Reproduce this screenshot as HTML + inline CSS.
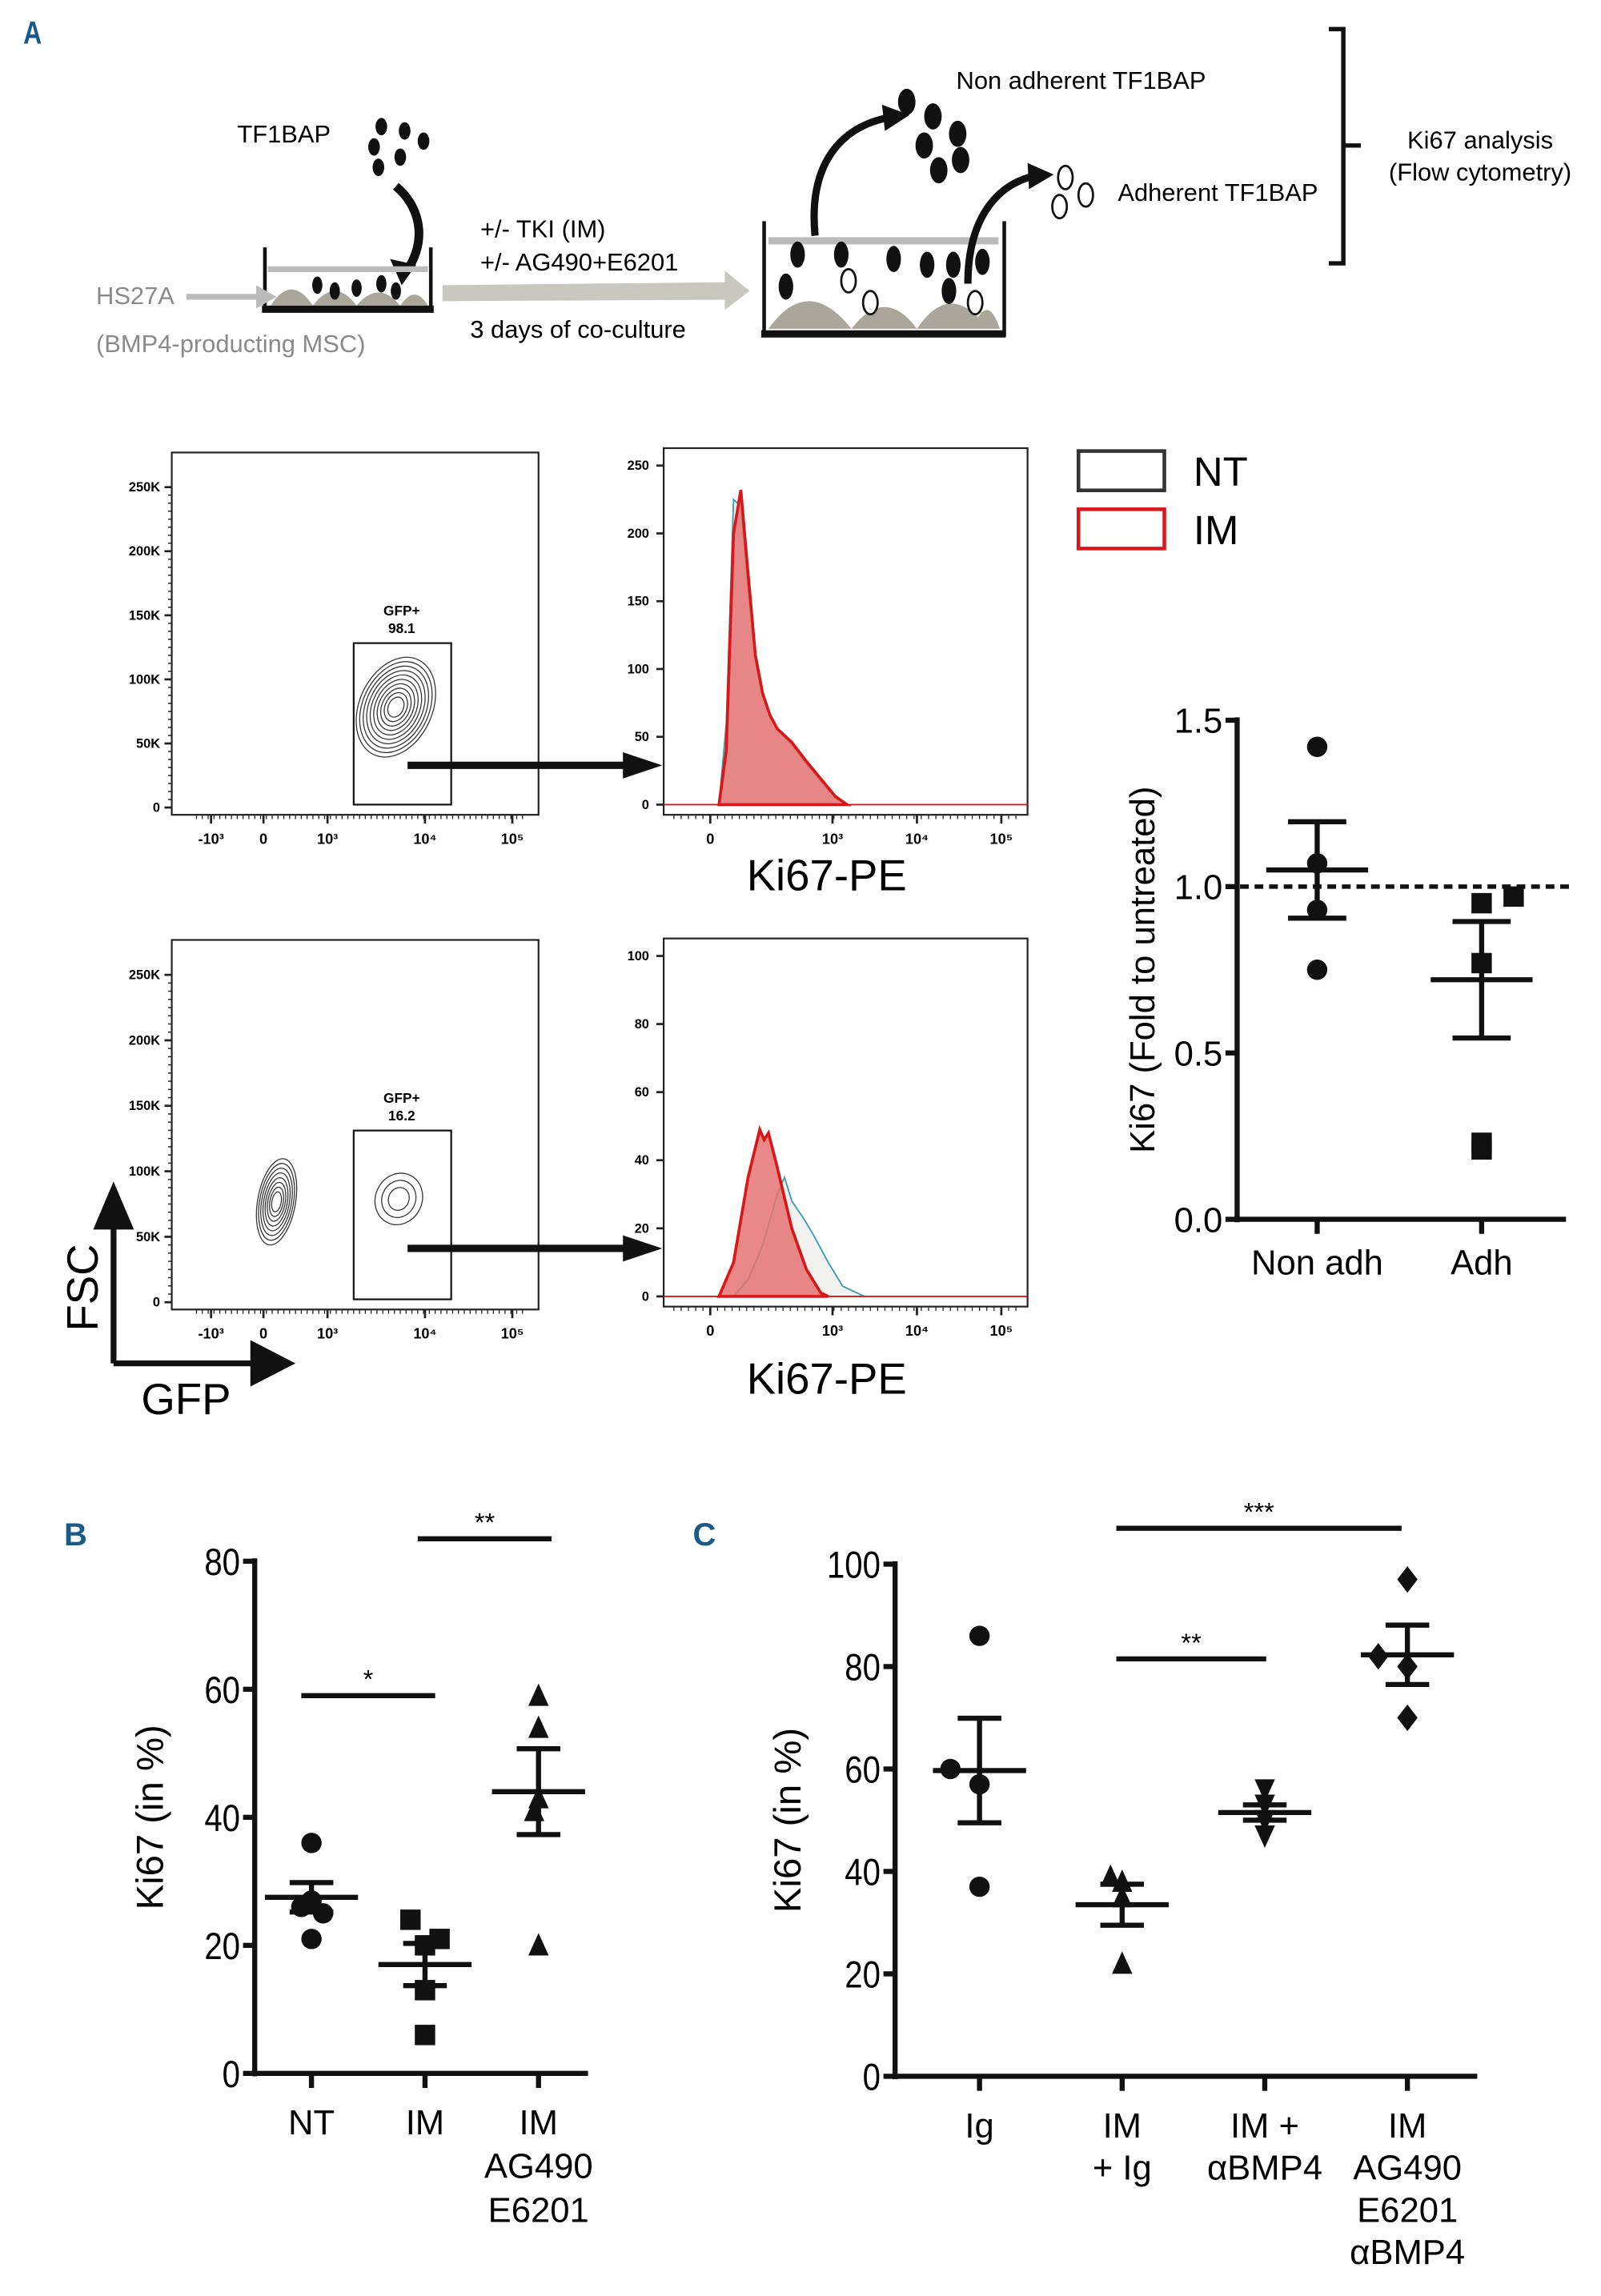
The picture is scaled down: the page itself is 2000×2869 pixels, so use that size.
<!DOCTYPE html>
<html><head><meta charset="utf-8"><style>
html,body{margin:0;padding:0;background:#fff}
svg{display:block}
text{font-family:"Liberation Sans",sans-serif}
</style></head><body>
<svg id="fig" xmlns="http://www.w3.org/2000/svg" width="2000" height="2869" viewBox="0 0 1100 1578">
<rect width="1100" height="1578" fill="#fff"/>
<g>
<text x="16" y="30" font-size="22" font-weight="bold" fill="#1a5a8a" transform="scale(0.8,1) translate(4,0)">A</text>
<text x="163" y="98" font-size="17">TF1BAP</text>
<g fill="#111">
<ellipse cx="262" cy="87" rx="4" ry="6"/><ellipse cx="278" cy="90" rx="4" ry="6"/><ellipse cx="257" cy="101" rx="4" ry="6"/><ellipse cx="291" cy="97" rx="4" ry="6"/><ellipse cx="275" cy="108" rx="4" ry="6"/><ellipse cx="260" cy="115" rx="4" ry="6"/></g>
<path d="M272 128 C292 145 292 170 278 188" stroke="#111" stroke-width="6" fill="none"/>
<polygon points="268,178 286,182 276,196" fill="#111"/>
<g>
<path d="M182 170 V213 H296 V170" stroke="#111" stroke-width="2.5" fill="none"/>
<rect x="180" y="210" width="118" height="5" fill="#111"/>
<rect x="184" y="183" width="110" height="4" fill="#bbb"/>
<path d="M186 210 Q200 188 215 210 Q230 190 245 210 Q260 192 275 210 Q285 195 294 210 Z" fill="#aaa69c"/>
<g fill="#111"><ellipse cx="218" cy="196" rx="3.5" ry="6"/><ellipse cx="230" cy="200" rx="3.5" ry="6"/><ellipse cx="245" cy="198" rx="3.5" ry="6"/><ellipse cx="262" cy="195" rx="3.5" ry="6"/><ellipse cx="272" cy="200" rx="3.5" ry="6"/></g>
</g>
<text x="66" y="209" font-size="17" fill="#8a8a8a">HS27A</text>
<line x1="128" y1="204" x2="180" y2="204" stroke="#bbb" stroke-width="4"/>
<polygon points="176,196 190,204 176,212" fill="#bbb"/>
<text x="66" y="242" font-size="17" fill="#8a8a8a">(BMP4-producting MSC)</text>
<text x="330" y="163" font-size="17">+/-  TKI (IM)</text>
<text x="330" y="186" font-size="17">+/- AG490+E6201</text>
<polygon points="304,196 498,194 498,186 515,200 498,213 498,206 304,207" fill="#c8c8c0"/>
<text x="323" y="232" font-size="17">3 days of co-culture</text>
<g>
<path d="M525 152 V230 H690 V152" stroke="#111" stroke-width="2.5" fill="none"/>
<rect x="523" y="227" width="168" height="5" fill="#111"/>
<rect x="528" y="163" width="158" height="5" fill="#bbb"/>
<path d="M528 226 Q555 188 585 226 Q608 196 630 226 Q650 196 672 218 Q680 205 687 226 Z" fill="#aaa69c"/>
<g fill="#111"><ellipse cx="548" cy="175" rx="5" ry="9"/><ellipse cx="578" cy="175" rx="5" ry="9"/><ellipse cx="614" cy="178" rx="5" ry="9"/><ellipse cx="637" cy="182" rx="5" ry="9"/><ellipse cx="655" cy="182" rx="5" ry="9"/><ellipse cx="675" cy="180" rx="5" ry="9"/><ellipse cx="540" cy="197" rx="5" ry="9"/><ellipse cx="652" cy="200" rx="5" ry="9"/></g>
<g fill="#fff" stroke="#111" stroke-width="1.5"><ellipse cx="583" cy="193" rx="5" ry="8"/><ellipse cx="598" cy="208" rx="5" ry="8"/><ellipse cx="670" cy="208" rx="5" ry="8"/></g>
</g>
<g fill="#111"><ellipse cx="623" cy="70" rx="6" ry="9"/><ellipse cx="641" cy="80" rx="6" ry="9"/><ellipse cx="635" cy="100" rx="6" ry="9"/><ellipse cx="658" cy="92" rx="6" ry="9"/><ellipse cx="645" cy="117" rx="6" ry="9"/><ellipse cx="660" cy="110" rx="6" ry="9"/></g>
<path d="M560 162 C555 110 580 85 615 80" stroke="#111" stroke-width="5" fill="none"/>
<polygon points="606,72 625,79 608,90" fill="#111"/>
<path d="M665 195 C665 150 685 125 715 120" stroke="#111" stroke-width="5" fill="none"/>
<polygon points="706,112 724,120 707,130" fill="#111"/>
<g fill="#fff" stroke="#111" stroke-width="1.5"><ellipse cx="732" cy="122" rx="5" ry="8"/><ellipse cx="746" cy="134" rx="5" ry="8"/><ellipse cx="728" cy="142" rx="5" ry="8"/></g>
<text x="657" y="61" font-size="17">Non adherent TF1BAP</text>
<text x="768" y="138" font-size="17">Adherent TF1BAP</text>
<path d="M913 20 H923 V181 H913 M923 100 H935" stroke="#111" stroke-width="3" fill="none"/>
<text x="1017" y="102" font-size="17" text-anchor="middle">Ki67 analysis</text>
<text x="1017" y="124" font-size="17" text-anchor="middle">(Flow cytometry)</text>
</g>

<g id="flow"></g>
<g id="foldchart"></g>
<g id="chartB"></g>
<g id="chartC"></g>
</svg>
<script>
const histTopChannels = [32,37,42,47,52,57,62,67,72,82,92,102,112,120];
const histTopNT = [0,60,225,220,160,108,80,65,55,44,30,17,5,0];
const histTopIM = [0,40,200,232,170,110,82,66,56,46,32,19,6,0];
const histBotChannelsIM = [32,42,52,60,63,66,72,82,92,102,107];
const histBotIM = [0,10,35,49,46,48,38,20,8,1,0];
const histBotChannelsNT = [42,52,62,72,77,82,90,97,107,117,132];
const histBotNT = [0,5,15,30,35,28,23,18,10,3,0];
const histTopTicks = [0,50,100,150,200,250];
const histBotTicks = [0,20,40,60,80,100];
const fscTicks = ['0','50K','100K','150K','200K','250K'];
const logTickLabels = ['0','10³','10⁴','10⁵'];

const foldCats = ['Non adh','Adh'];
const foldNonAdh = [1.42,1.07,0.93,0.75];
const foldAdh = [0.97,0.95,0.77,0.23,0.21];
const foldMeans = [1.05,0.72];
const foldSem = [0.145,0.175];
const foldTicks = ['0.0','0.5','1.0','1.5'];

const bCats = [['NT'],['IM'],['IM','AG490','E6201']];
const bNT = [36,27,26,25,21];
const bIM = [24,21,20,13,6];
const bIMAG = [59,54,43,41,20];
const bMeans = [27.5,17,44];
const bSem = [2.3,3.3,6.7];
const bTicks = [0,20,40,60,80];

const cCats = [['Ig'],['IM','+ Ig'],['IM +','αBMP4'],['IM','AG490','E6201','αBMP4']];
const cIg = [86,60,57,37];
const cIMIg = [39,38,35,22];
const cBMP4 = [56,53,50,47];
const cIMAG = [97,82,80,70];
const cMeans = [59.7,33.5,51.5,82.3];
const cSem = [10.2,4,1.5,5.8];
const cTicks = [0,20,40,60,80,100];

const NS='http://www.w3.org/2000/svg';
function mk(parent, tag, attrs, txt){const e=document.createElementNS(NS,tag);for(const k in attrs)e.setAttribute(k,attrs[k]);if(txt!==undefined)e.textContent=txt;parent.appendChild(e);return e;}

const flow=document.getElementById('flow');
function dotPlot(x0,y0,x1,y1,gateLabel,twoPops){
  const g=mk(flow,'g',{});
  
  
  mk(g,'rect',{x:x0,y:y0,width:x1-x0,height:y1-y0,fill:'none',stroke:'#222','stroke-width':1.2});
  for(let i=0;i<fscTicks.length;i++){
    const y=y1-5-i*(y1-y0-20)/5.2;
    mk(g,'line',{x1:x0-5,y1:y,x2:x0,y2:y,stroke:'#222','stroke-width':1.5});
    const t=mk(g,'text',{x:x0-8,y:y+3,'font-size':9,'text-anchor':'end','font-weight':'bold'},fscTicks[i]);
    
  }
  for(let i=0;i<40;i++){const y=y1-5-i*(y1-y0-20)/41.6;mk(g,'line',{x1:x0-2.5,y1:y,x2:x0,y2:y,stroke:'#222','stroke-width':0.8});}
  const gx=['-10³','0','10³','10⁴','10⁵'], gp=[145,181,225,292,352];
  for(let i=0;i<gx.length;i++){mk(g,'line',{x1:gp[i],y1:y1,x2:gp[i],y2:y1+6,stroke:'#222','stroke-width':1.5});const t=mk(g,'text',{x:gp[i],y:y1+20,'font-size':10,'text-anchor':'middle','font-weight':'bold'},gx[i]);}
  for(let x=135;x<360;x+=4){mk(g,'line',{x1:x,y1:y1,x2:x,y2:y1+3,stroke:'#222','stroke-width':0.7});}
  mk(g,'rect',{x:243,y:y0+131,width:67,height:y1-y0-138,fill:'none',stroke:'#111','stroke-width':1.2});
  const t1=mk(g,'text',{x:276,y:y0+112,'font-size':9.5,'text-anchor':'middle','font-weight':'bold'},'GFP+');
  const t2=mk(g,'text',{x:276,y:y0+124,'font-size':9.5,'text-anchor':'middle','font-weight':'bold'},gateLabel);
  const cg=mk(g,'g',{fill:'none',stroke:'#333','stroke-width':0.7});
  if(!twoPops){for(let k=0;k<10;k++){mk(cg,'ellipse',{cx:272,cy:y0+175,rx:25-k*2.2,ry:36-k*3.2,transform:`rotate(25 272 ${y0+175})`});}}
  else{for(let k=0;k<8;k++){mk(cg,'ellipse',{cx:190,cy:y0+180,rx:13-k*1.4,ry:30-k*3.3,transform:`rotate(10 190 ${y0+180})`});}
    for(let k=0;k<3;k++){mk(cg,'ellipse',{cx:274,cy:y0+178,rx:16-k*4.5,ry:18-k*5,transform:`rotate(25 274 ${y0+178})`});}}
  mk(g,'line',{x1:280,y1:y0+(twoPops?212:215),x2:430,y2:y0+(twoPops?212:215),stroke:'#111','stroke-width':5});
  mk(g,'polygon',{points:`428,${y0+(twoPops?203:206)} 455,${y0+(twoPops?212:215)} 428,${y0+(twoPops?221:224)}`,fill:'#111'});
}
dotPlot(118,311,370,560,'98.1',false);
dotPlot(118,646,370,900,'16.2',true);

function histPlot(x0,y0,x1,y1,ticks,maxV,chNT,nt,chIM,im){
  const g=mk(flow,'g',{});
  
  
  const yb=y1-7, yt=y0+12;
  const ys=v=>yb-(v/maxV)*(yb-yt);
  const xs=c=>x0+6+c;
  mk(g,'rect',{x:x0,y:y0,width:x1-x0,height:y1-y0,fill:'none',stroke:'#222','stroke-width':1.2});
  for(let i=0;i<ticks.length;i++){const y=ys(ticks[i]);mk(g,'line',{x1:x0-5,y1:y,x2:x0,y2:y,stroke:'#222','stroke-width':1.5});const t=mk(g,'text',{x:x0-10,y:y+3,'font-size':9,'text-anchor':'end','font-weight':'bold'},ticks[i]);}
  const lp=[488,572,630,688];
  for(let i=0;i<lp.length;i++){mk(g,'line',{x1:lp[i],y1:y1,x2:lp[i],y2:y1+6,stroke:'#222','stroke-width':1.5});const t=mk(g,'text',{x:lp[i],y:y1+20,'font-size':10,'text-anchor':'middle','font-weight':'bold'},logTickLabels[i]);}
  for(let x=463;x<700;x+=5){mk(g,'line',{x1:x,y1:y1,x2:x,y2:y1+3,stroke:'#222','stroke-width':0.7});}
  const pts=(ch,v)=>ch.map((c,i)=>`${xs(c)},${ys(v[i])}`).join(' ');
  const ntP=mk(g,'polygon',{points:pts(chNT,nt),fill:'#f2f2f0',stroke:'#333','stroke-width':0.8});
  
  mk(g,'polyline',{points:pts(chNT,nt),fill:'none',stroke:'#3aa0b5','stroke-width':1});
  const imP=mk(g,'polygon',{points:pts(chIM,im),fill:'#e57373','fill-opacity':0.85,stroke:'#d81818','stroke-width':2});
  
  mk(g,'line',{x1:x0,y1:yb,x2:x1,y2:yb,stroke:'#d81818','stroke-width':1});
}
histPlot(456,308,706,560,histTopTicks,250,histTopChannels,histTopNT,histTopChannels,histTopIM);
histPlot(456,645,706,898,histBotTicks,100,histBotChannelsNT,histBotNT,histBotChannelsIM,histBotIM);
for(const y of [612,958]){const t=mk(flow,'text',{x:568,y:y,'font-size':30,'text-anchor':'middle'},'Ki67-PE');}
mk(flow,'path',{d:'M78 937 V835 M78 937 H180',stroke:'#111','stroke-width':4,fill:'none'});
mk(flow,'polygon',{points:'64,845 78,812 92,845',fill:'#111'});
mk(flow,'polygon',{points:'172,921 203,937 172,953',fill:'#111'});
{const t=mk(flow,'text',{x:67,y:915,'font-size':30,transform:'rotate(-90 67 915)'},'FSC');}
{const t=mk(flow,'text',{x:97,y:972,'font-size':30},'GFP');}
{const r=mk(flow,'rect',{x:741,y:310,width:59,height:27,fill:'none',stroke:'#333','stroke-width':2.5});
const t=mk(flow,'text',{x:820,y:334,'font-size':28},'NT');
const r2=mk(flow,'rect',{x:741,y:350,width:59,height:27,fill:'none',stroke:'#d81818','stroke-width':2.5});
const t2=mk(flow,'text',{x:820,y:374,'font-size':28},'IM');}

function scatterChart(gid,o){
  const g=document.getElementById(gid);
  const ys=v=>o.yb-(v-o.vmin)/(o.vmax-o.vmin)*(o.yb-o.yt);
  mk(g,'line',{x1:o.ax,y1:o.yt-2,x2:o.ax,y2:o.yb+2,stroke:'#111','stroke-width':o.aw});
  mk(g,'line',{x1:o.ax-2,y1:o.yb,x2:o.xend,y2:o.yb,stroke:'#111','stroke-width':o.aw});
  o.ticks.forEach((tk,i)=>{const v=o.tickVals[i];const y=ys(v);mk(g,'line',{x1:o.ax-8,y1:y,x2:o.ax,y2:y,stroke:'#111','stroke-width':o.aw});
    const t=mk(g,'text',{x:o.ax-10,y:y+o.tfs*0.36,'font-size':o.tfs,'text-anchor':'end',transform:o.narrow?`translate(${(o.ax-10)*0.15},0) scale(0.85,1)`:''},tk);
    });
  const t=mk(g,'text',{x:o.ylx,y:(o.yt+o.yb)/2,'font-size':o.yfs,'text-anchor':'middle',transform:`rotate(-90 ${o.ylx} ${(o.yt+o.yb)/2})`},o.ylabel);
  
  o.cats.forEach((c,i)=>{const x=o.cx[i];mk(g,'line',{x1:x,y1:o.yb,x2:x,y2:o.yb+10,stroke:'#111','stroke-width':o.aw});
    c.forEach((ln,j)=>{const tt=mk(g,'text',{x:x,y:o.yb+o.lab0+j*o.lh,'font-size':o.cfs,'text-anchor':'middle'},ln);});
    const vals=o.series[i];
    vals.forEach((v,k)=>{const dx=(o.offsets&&o.offsets[i])?o.offsets[i][k]:0;const px=x+dx, py=ys(v);let m;
      const s=o.ms, sh=o.shapes[i];
      if(sh==='circle')m=mk(g,'circle',{cx:px,cy:py,r:s,fill:'#111'});
      else if(sh==='square')m=mk(g,'rect',{x:px-s,y:py-s,width:2*s,height:2*s,fill:'#111'});
      else if(sh==='tri')m=mk(g,'polygon',{points:`${px-s},${py+s} ${px},${py-s*1.2} ${px+s},${py+s}`,fill:'#111'});
      else if(sh==='itri')m=mk(g,'polygon',{points:`${px-s},${py-s} ${px},${py+s*1.2} ${px+s},${py-s}`,fill:'#111'});
      else m=mk(g,'polygon',{points:`${px},${py-s*1.3} ${px+s},${py} ${px},${py+s*1.3} ${px-s},${py}`,fill:'#111'});
      });
    const mn=o.means[i], se=o.sem[i];
    const ml=mk(g,'line',{x1:x-o.mw,y1:ys(mn),x2:x+o.mw,y2:ys(mn),stroke:'#111','stroke-width':o.lw});
    const el=mk(g,'line',{x1:x,y1:ys(mn+se),x2:x,y2:ys(mn-se),stroke:'#111','stroke-width':o.lw});
    mk(g,'line',{x1:x-o.cw,y1:ys(mn+se),x2:x+o.cw,y2:ys(mn+se),stroke:'#111','stroke-width':o.lw});
    mk(g,'line',{x1:x-o.cw,y1:ys(mn-se),x2:x+o.cw,y2:ys(mn-se),stroke:'#111','stroke-width':o.lw});
  });
  (o.sig||[]).forEach(s=>{const y=ys(s.v);const l=mk(g,'line',{x1:s.x1,y1:y,x2:s.x2,y2:y,stroke:'#111','stroke-width':3.5});
    const tt=mk(g,'text',{x:(s.x1+s.x2)/2,y:y-5,'font-size':18,'text-anchor':'middle'},s.t);});
  return {g,ys};
}

const fc=scatterChart('foldchart',{ax:850,yt:495,yb:838,vmin:0,vmax:1.5,xend:1076,aw:3.5,tickVals:[0,0.5,1,1.5],ticks:foldTicks,tfs:24,
  ylx:793,yfs:24,ylabel:'Ki67 (Fold to untreated)',cats:[[foldCats[0]],[foldCats[1]]],cx:[905,1018],lab0:38,lh:28,cfs:24,
  series:[foldNonAdh,foldAdh],offsets:[[0,0,0,0],[22,0,0,0,0]],shapes:['circle','square'],ms:7,means:foldMeans,sem:foldSem,mw:35,cw:20,lw:3.5});
{const y=fc.ys(1.0);const d=mk(fc.g,'line',{x1:852,y1:y,x2:1080,y2:y,stroke:'#111','stroke-width':3,'stroke-dasharray':'6,4'});}

{const t=mk(document.getElementById('chartB'),'text',{x:44,y:1062,'font-size':22,'font-weight':'bold',fill:'#1a5a8a'},'B');}
scatterChart('chartB',{ax:175,yt:1073,yb:1425,vmin:0,vmax:80,xend:404,aw:3.5,tickVals:bTicks,ticks:bTicks.map(String),tfs:26,narrow:true,
  ylx:112,yfs:26,ylabel:'Ki67 (in %)',cats:bCats,cx:[214,292,370],lab0:42,lh:30,cfs:24,
  series:[bNT,bIM,bIMAG],offsets:[[0,0,-7,8,0],[-10,10,0,0,0],[0,0,0,-3,0]],shapes:['circle','square','tri'],ms:7,means:bMeans,sem:bSem,mw:32,cw:15,lw:3.5,
  sig:[{x1:207,x2:299,v:59,t:'*'},{x1:287,x2:379,v:83.5,t:'**'}]});

{const t=mk(document.getElementById('chartC'),'text',{x:476,y:1062,'font-size':22,'font-weight':'bold',fill:'#1a5a8a'},'C');}
scatterChart('chartC',{ax:615,yt:1075,yb:1427,vmin:0,vmax:100,xend:1015,aw:3.5,tickVals:cTicks,ticks:cTicks.map(String),tfs:26,narrow:true,
  ylx:550,yfs:26,ylabel:'Ki67 (in %)',cats:cCats,cx:[673,771,869,967],lab0:42,lh:29,cfs:24,
  series:[cIg,cIMIg,cBMP4,cIMAG],offsets:[[0,-20,0,0],[-8,0,0,0],[0,0,0,0],[0,-20,0,0]],shapes:['circle','tri','itri','diamond'],ms:7,means:cMeans,sem:cSem,mw:32,cw:15,lw:3.5,
  sig:[{x1:767,x2:963,v:107,t:'***'},{x1:767,x2:870,v:81.5,t:'**'}]});
</script>
</body></html>
